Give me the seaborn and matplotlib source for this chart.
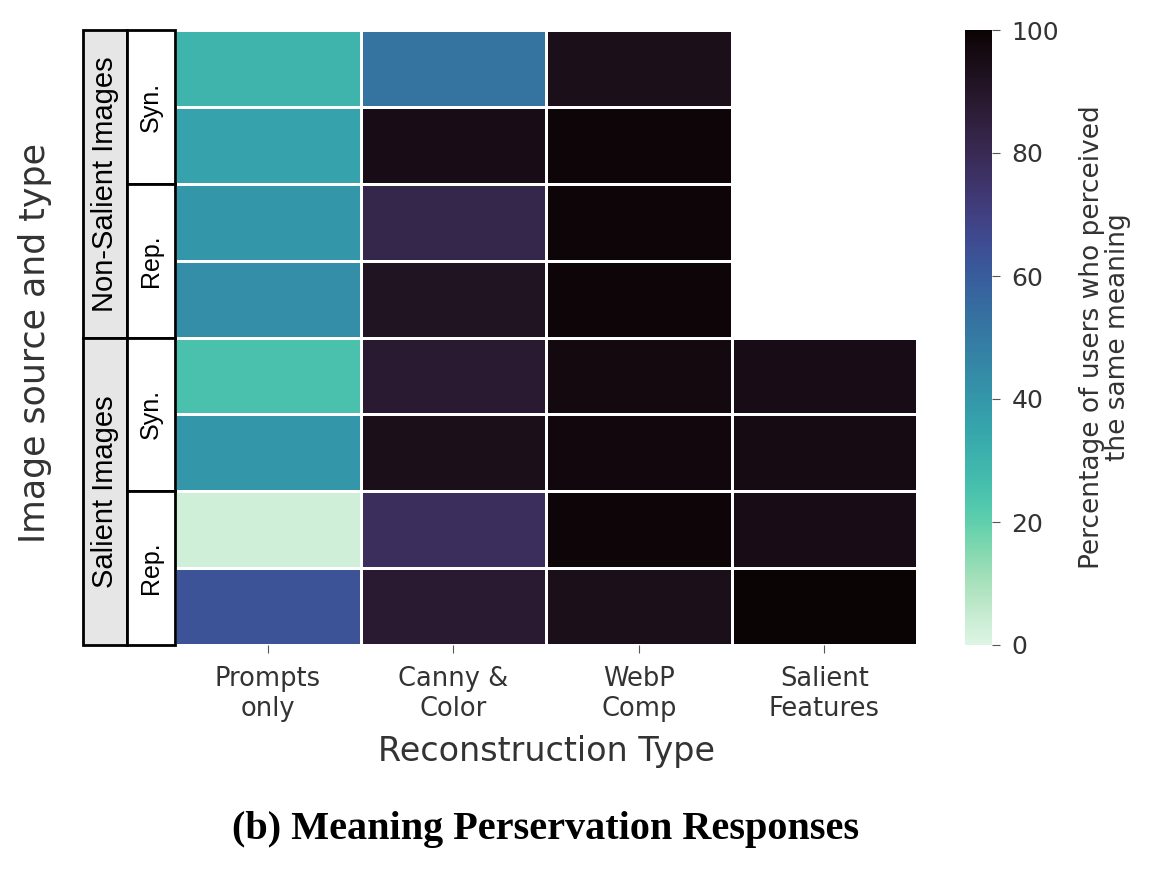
import numpy as np
import pandas as pd
import seaborn as sns
import matplotlib.pyplot as plt
from matplotlib.patches import Rectangle

# columns of the heatmap
recon_types = ['Prompts\nonly', 'Canny &\nColor', 'WebP\nComp', 'Salient\nFeatures']
row_ids = ['NS-Syn-1', 'NS-Syn-2', 'NS-Rep-1', 'NS-Rep-2',
           'S-Syn-1', 'S-Syn-2', 'S-Rep-1', 'S-Rep-2']

# percentage of users who perceived the same meaning
prompts_only = [30, 36, 40, 43, 25, 40, 3, 63]
canny_color = [52, 95, 82, 92, 88, 94, 78, 88]
webp_comp = [94, 99, 99, 99, 97, 98, 99, 94]
salient_feat = [np.nan, np.nan, np.nan, np.nan, 95, 96, 95, 100]

groups = ['Non-Salient Images', 'Salient Images']
subgroups = ['Syn.', 'Rep.', 'Syn.', 'Rep.']

df = pd.DataFrame({recon_types[0]: prompts_only, recon_types[1]: canny_color,
                   recon_types[2]: webp_comp, recon_types[3]: salient_feat},
                  index=row_ids)

W, H = 1160, 874
fig = plt.figure(figsize=(W / 100, H / 100), dpi=100)
ax = fig.add_axes([175 / W, 1 - 645 / H, 742 / W, 615 / H])
cax = fig.add_axes([965 / W, 1 - 645 / H, 27 / W, 615 / H])

sns.heatmap(df, ax=ax, cbar_ax=cax, cmap='mako_r', vmin=0, vmax=100,
            linewidths=2, linecolor='white')

ax.set_yticks([])
ax.set_ylabel('')
ax.tick_params(axis='x', labelsize=18.5, rotation=0, length=6, color='#555555',
               labelcolor='#333333', pad=9)
ax.set_xlabel('')

cax.tick_params(labelsize=18, length=6, pad=8, color='#555555', labelcolor='#333333')
cax.set_ylabel('Percentage of users who perceived\nthe same meaning',
               fontsize=19, color='#333333', labelpad=14, linespacing=1.0)

# left side table of image source / type
tr = ax.get_yaxis_transform()
x0, x1 = -0.124, -0.0647
for i, g in enumerate(groups):
    ax.add_patch(Rectangle((x0, i * 4), x1 - x0, 4, transform=tr, clip_on=False,
                           facecolor='#e6e6e6', edgecolor='black', lw=2))
    ax.text((x0 + x1) / 2, i * 4 + 2, g, transform=tr, rotation=90,
            ha='center', va='center', fontsize=21, family='Liberation Sans')
for j, s in enumerate(subgroups):
    ax.add_patch(Rectangle((x1, j * 2), -x1, 2, transform=tr, clip_on=False,
                           facecolor='white', edgecolor='black', lw=2))
    ax.text(x1 / 2, j * 2 + 1, s, transform=tr, rotation=90,
            ha='center', va='center', fontsize=18, family='Liberation Sans')

fig.text(35 / W, 1 - 343 / H, 'Image source and type', rotation=90,
         ha='center', va='center', fontsize=25, color='#333333')
fig.text(546 / W, 1 - 752 / H, 'Reconstruction Type', ha='center', va='center',
         fontsize=24, color='#333333')
fig.text(546 / W, 1 - 830 / H, '(b) Meaning Perservation Responses',
         ha='center', va='center', fontsize=29, fontweight='bold',
         family='Liberation Serif')

fig.savefig('out.png', dpi=100)
